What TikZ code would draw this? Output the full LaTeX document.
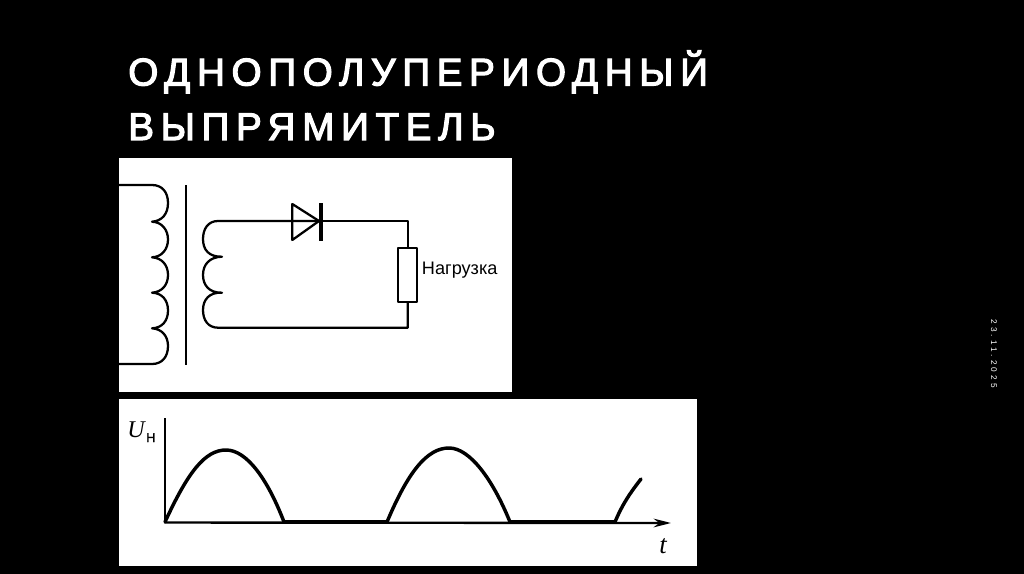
\documentclass[tikz,border=0pt]{standalone}
\usetikzlibrary{arrows.meta}
\usepackage{fontspec}
\setmainfont{Liberation Sans}
\newfontfamily\titlefont[LetterSpace=17.2,FakeBold=3]{Liberation Sans}
\newfontfamily\datefont[LetterSpace=37]{Liberation Sans}
\newfontfamily\serifit{Liberation Serif}
\newfontfamily\sansheavy[FakeBold=2]{Liberation Sans}
\tikzset{
  panel/.style={fill=white,draw=none},
  wire/.style={black,line width=1.7pt,line join=round},
  curve/.style={black,line width=2.6pt,line cap=round},
  axisline/.style={black,line width=1.3pt},
  titletext/.style={white,anchor=base west,inner sep=0pt,font=\titlefont\fontsize{29}{30}\selectfont},
}
\begin{document}
\begin{tikzpicture}[x=0.75pt,y=-0.75pt]
\useasboundingbox (0,0) rectangle (1024,574);
\fill[black] (0,0) rectangle (1024,574);
\node[titletext] (t1) at (128,85.5) {ОДНОПОЛУПЕРИОДНЫЙ};
\node[titletext] (t2) at (128,140) {ВЫПРЯМИТЕЛЬ};
\node[white,rotate=-90,inner sep=0pt,font=\datefont\fontsize{6.2}{7}\selectfont] (date) at (994,353.5) {23.11.2025};
% panel 1
\fill[panel] (119,158) rectangle (512,392);
\draw[wire] (119,185) -- (152,185)
  .. controls (162,185) and (168,192) .. (168,203) .. controls (168,214) and (162,221) .. (152,221.7)
  .. controls (162,222) and (168,230) .. (168,239.5) .. controls (168,249) and (162,257) .. (152,257.3)
  .. controls (162,258) and (168,265) .. (168,275) .. controls (168,285) and (162,292) .. (152,292.7)
  .. controls (162,293) and (168,300) .. (168,310.5) .. controls (168,321) and (162,328) .. (152,328.3)
  .. controls (162,329) and (168,336) .. (168,346) .. controls (168,357) and (162,364) .. (152,364) -- (119,364);
\draw[black,line width=1.5pt] (186,185.5) -- (186,365);
\coordinate (dK) at (321,221);
\coordinate (corner1) at (407.7,221);
\coordinate (corner2) at (407.7,327.7);
\draw[wire] (dK) -- (corner1) -- (407.7,248.3);
\draw[wire] (407.7,302) -- (corner2) -- (218,327.7)
  .. controls (208,327.7) and (203,320) .. (203,310) .. controls (203,300) and (209,292) .. (222,292.7)
  .. controls (209,293) and (203,285) .. (203,275) .. controls (203,265) and (209,257) .. (222,256.7)
  .. controls (209,257) and (203,250) .. (203,239) .. controls (203,229) and (208,221) .. (218,221) -- (319,221);
\draw[wire] (292.3,204) -- (319,221) -- (292.3,240) -- cycle;
\fill[black] (319,202.7) rectangle (323,240.7);
\draw[wire,fill=white] (398.3,248.3) rectangle (416.7,302);
\node[black,anchor=base west,inner sep=0pt,font=\fontsize{13.6}{15}\selectfont] (load) at (421.7,274) {Нагрузка};
% panel 2
\fill[panel] (119,399) rectangle (697,566);
\coordinate (O) at (165,522.5);
\coordinate (Yt) at (165,418);
\coordinate (Xt) at (671,523);
\draw[axisline] (O) -- (Yt);
\draw[black,line width=1.8pt,-{Stealth[length=13pt,width=6.5pt]}] (O) -- (Xt);
\draw[curve] (165,522) .. controls (188,472) and (205,450) .. (226,450) .. controls (247,450) and (268,480) .. (284,522);
\draw[curve] (387,522) .. controls (408,472) and (427,448) .. (449,448) .. controls (470,448) and (493,480) .. (510,522);
\draw[curve] (615,522) .. controls (622,505) and (630,493) .. (641,479);
\draw[black,line width=2.4pt] (284,522) -- (387,522) (510,522) -- (615,522);
\node[black,anchor=base west,inner sep=0pt,font=\serifit\itshape\fontsize{18}{19}\selectfont] (un) at (127,437) {U};
\node[black,anchor=base west,inner sep=0pt,font=\sansheavy\fontsize{9.5}{11}\selectfont] (unsub) at (146,442) {Н};
\node[black,anchor=base west,inner sep=0pt,font=\serifit\itshape\fontsize{20}{20}\selectfont] (tt) at (659,553) {t};
\end{tikzpicture}
\end{document}
